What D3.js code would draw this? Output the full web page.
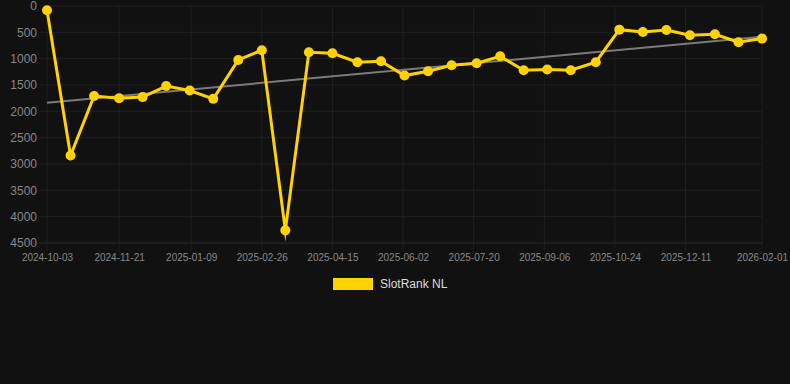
<!DOCTYPE html>
<html>
<head>
<meta charset="utf-8">
<script src="https://cdn.jsdelivr.net/npm/d3@7"></script>
<style>
  html, body { margin: 0; padding: 0; background: #111111; }
  svg { display: block; font-family: "Liberation Sans", Arial, sans-serif; }
</style>
</head>
<body>
<svg id="chart" width="790" height="384"></svg>
<script>
// data
const dates = [
  '2024-10-03', '2024-10-19', '2024-11-04', '2024-11-21', '2024-12-07', '2024-12-23',
  '2025-01-08', '2025-01-24', '2025-02-10', '2025-02-26', '2025-03-14', '2025-03-30',
  '2025-04-15', '2025-05-02', '2025-05-18', '2025-06-03', '2025-06-19', '2025-07-05',
  '2025-07-22', '2025-08-07', '2025-08-23', '2025-09-08', '2025-09-24', '2025-10-11',
  '2025-10-27', '2025-11-12', '2025-11-28', '2025-12-14', '2025-12-31', '2026-01-16',
  '2026-02-01'
];
const ranks = [
  80, 2840, 1710, 1750, 1730, 1520,
  1605, 1763, 1024, 840, 4260, 878,
  897, 1068, 1049, 1321, 1239, 1125,
  1087, 955, 1220, 1207, 1220, 1068,
  449, 493, 455, 556, 537, 689,
  619
];
const trendDates = ['2024-10-03', '2026-02-01'];
const trendValues = [1835, 585];
const xTickLabels = [
  '2024-10-03', '2024-11-21', '2025-01-09', '2025-02-26', '2025-04-15', '2025-06-02',
  '2025-07-20', '2025-09-06', '2025-10-24', '2025-12-11', '2026-02-01'
];
const yTicks = [0, 500, 1000, 1500, 2000, 2500, 3000, 3500, 4000, 4500];
const seriesName = 'SlotRank NL';

const parse = d3.utcParse('%Y-%m-%d');
const svg = d3.select('#chart');
const m = {left: 47, right: 762, top: 6, bottom: 243};

const x = d3.scaleUtc()
  .domain([parse(dates[0]), parse(dates[dates.length - 1])])
  .range([m.left, m.right]);
const y = d3.scaleLinear()
  .domain([0, 4500])
  .range([m.top, m.bottom]);

// grid
const grid = svg.append('g');
grid.selectAll('.hg').data(yTicks).join('line')
  .attr('x1', m.left - 8).attr('x2', m.right)
  .attr('y1', d => y(d)).attr('y2', d => y(d))
  .attr('stroke', d => d === 4500 ? '#2c2c2c' : '#1f1f1f')
  .attr('stroke-width', 1);
grid.selectAll('.vg').data(xTickLabels).join('line')
  .attr('x1', d => x(parse(d))).attr('x2', d => x(parse(d)))
  .attr('y1', m.top).attr('y2', m.bottom + 8)
  .attr('stroke', '#1f1f1f')
  .attr('stroke-width', 1);

// axes (labels only, lines drawn as grid)
const yAxis = svg.append('g')
  .attr('transform', `translate(${m.left - 10},0)`)
  .call(d3.axisLeft(y).tickValues(yTicks).tickSize(0).tickPadding(0).tickFormat(d3.format('d')));
yAxis.select('.domain').remove();
yAxis.selectAll('text').attr('fill', '#888').attr('font-size', 12)
  .attr('font-family', '"Liberation Sans", Arial, sans-serif');

const xAxis = svg.append('g')
  .attr('transform', `translate(0,${m.bottom + 11})`)
  .call(d3.axisBottom(x).tickValues(xTickLabels.map(parse)).tickSize(0).tickPadding(0)
    .tickFormat(d3.utcFormat('%Y-%m-%d')));
xAxis.select('.domain').remove();
xAxis.selectAll('text').attr('fill', '#888').attr('font-size', 10)
  .attr('font-family', '"Liberation Sans", Arial, sans-serif');

// trend line
const trend = d3.line().x(d => x(parse(d[0]))).y(d => y(d[1]));
svg.append('path')
  .datum(trendDates.map((d, i) => [d, trendValues[i]]))
  .attr('d', trend)
  .attr('fill', 'none')
  .attr('stroke', '#7a7a7a')
  .attr('stroke-width', 2);

// series
const points = dates.map((d, i) => [parse(d), ranks[i]]);
const line = d3.line().x(d => x(d[0])).y(d => y(d[1]));
svg.append('path')
  .datum(points)
  .attr('d', line)
  .attr('fill', 'none')
  .attr('stroke', '#FFD200')
  .attr('stroke-width', 3)
  .attr('stroke-linejoin', 'miter')
  .attr('stroke-miterlimit', 10);
svg.append('g').selectAll('circle').data(points).join('circle')
  .attr('cx', d => x(d[0]))
  .attr('cy', d => y(d[1]))
  .attr('r', 5)
  .attr('fill', '#FFD200');

// legend
const legend = svg.append('g');
legend.append('rect')
  .attr('x', 333).attr('y', 278).attr('width', 40).attr('height', 12)
  .attr('fill', '#FFD200');
legend.append('text')
  .attr('x', 380).attr('y', 284).attr('dy', '0.35em')
  .attr('fill', '#ddd').attr('font-size', 12)
  .text(seriesName);
</script>
</body>
</html>
